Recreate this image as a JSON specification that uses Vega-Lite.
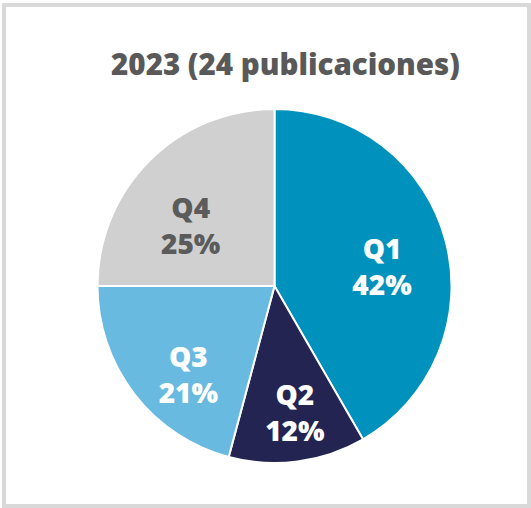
{
  "$schema": "https://vega.github.io/schema/vega-lite/v6.json",
  "width": 525,
  "height": 501,
  "autosize": "none",
  "padding": {"left": 4, "top": 5, "right": 2, "bottom": 2},
  "background": "white",
  "view": {"stroke": "#D9D9D9", "strokeWidth": 4},
  "config": {"view": {"stroke": "#D9D9D9", "strokeWidth": 4}},
  "title": {
    "text": "2023 (24 publicaciones)",
    "orient": "top",
    "anchor": "middle",
    "offset": -99,
    "baseline": "alphabetic",
    "dx": 19,
    "font": "Open Sans",
    "fontSize": 29.5,
    "fontWeight": 800,
    "color": "#595959"
  },
  "data": {
    "values": [
      {"q": "Q1", "n": 10, "pct": "42%"},
      {"q": "Q2", "n": 3, "pct": "12%"},
      {"q": "Q3", "n": 5, "pct": "21%"},
      {"q": "Q4", "n": 6, "pct": "25%"}
    ]
  },
  "encoding": {
    "theta": {"field": "n", "type": "quantitative", "stack": true},
    "order": {"field": "q", "type": "ordinal", "sort": "ascending"}
  },
  "layer": [
    {
      "mark": {"type": "arc", "outerRadius": 177, "stroke": "white", "strokeWidth": 2, "xOffset": 8, "yOffset": 30.5},
      "encoding": {
        "color": {
          "field": "q",
          "type": "nominal",
          "scale": {"domain": ["Q1", "Q2", "Q3", "Q4"], "range": ["#0091BD", "#232452", "#68BAE0", "#D0D0D0"]},
          "legend": null
        }
      }
    },
    {
      "transform": [{"calculate": "[datum.q, datum.pct]", "as": "label"}],
      "mark": {"type": "text", "radius": 113, "thetaOffset": -0.05, "font": "Open Sans", "fontSize": 28, "fontWeight": 800, "lineHeight": 36, "xOffset": 8, "yOffset": 30.5, "baseline": "middle"},
      "encoding": {
        "text": {"field": "label"},
        "color": {
          "field": "q",
          "type": "nominal",
          "scale": {"domain": ["Q1", "Q2", "Q3", "Q4"], "range": ["#FFFFFF", "#FFFFFF", "#FFFFFF", "#5B5B5B"]},
          "legend": null
        }
      }
    }
  ],
  "resolve": {"scale": {"color": "independent"}}
}
